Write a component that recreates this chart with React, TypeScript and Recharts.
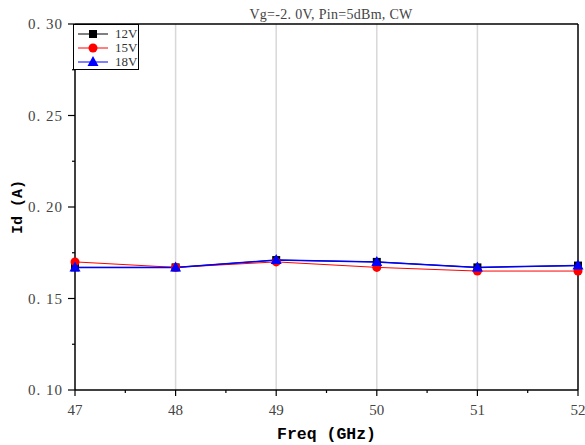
import React from 'react';
import { LineChart, Line, XAxis, YAxis, ReferenceLine, Legend } from 'recharts';

// Drain current vs. frequency at three drain voltages
const freqs = [47, 48, 49, 50, 51, 52];
const id12V = [0.167, 0.167, 0.171, 0.170, 0.167, 0.168];
const id15V = [0.170, 0.167, 0.170, 0.167, 0.165, 0.165];
const id18V = [0.167, 0.167, 0.171, 0.170, 0.167, 0.168];

const xTicks = [47, 47.5, 48, 48.5, 49, 49.5, 50, 50.5, 51, 51.5, 52];
const yTicks = [0.1, 0.125, 0.15, 0.175, 0.2, 0.225, 0.25, 0.275, 0.3];
const gridFreqs = [48, 49, 50, 51];

const title = 'Vg=-2. 0V, Pin=5dBm, CW';
const xTitle = 'Freq (GHz)';
const yTitle = 'Id (A)';

const data = freqs.map((f, i) => ({ f, v12: id12V[i], v15: id15V[i], v18: id18V[i] }));

const series = [
  { key: 'v12', name: '12V', color: '#000000', shape: 'square' },
  { key: 'v15', name: '15V', color: '#ff0000', shape: 'circle' },
  { key: 'v18', name: '18V', color: '#0000ff', shape: 'triangle' },
];

const serif = '"Liberation Serif", "DejaVu Serif", serif';
const mono = '"Liberation Mono", "DejaVu Sans Mono", monospace';

const Marker = ({ shape, color, cx, cy }: { shape: string; color: string; cx: number; cy: number }) => {
  if (shape === 'square') return <rect x={cx - 4} y={cy - 4} width={8} height={8} fill={color} />;
  if (shape === 'circle') return <circle cx={cx} cy={cy} r={4.5} fill={color} />;
  return <polygon points={`${cx},${cy - 6} ${cx - 5.5},${cy + 4} ${cx + 5.5},${cy + 4}`} fill={color} />;
};

const makeDot = (shape: string, color: string) => (p: any) => (
  <Marker key={`${shape}-${p.index}`} shape={shape} color={color} cx={p.cx} cy={p.cy} />
);

const XTick = (props: any) => {
  const { x, y, payload } = props;
  const major = Number.isInteger(payload.value);
  return (
    <g>
      <line x1={x} x2={x} y1={y} y2={y + (major ? 6 : 3)} stroke="#000" strokeWidth={1.2} />
      {major && (
        <text x={x} y={y + 25} textAnchor="middle" fontFamily={serif} fontSize={15} fill="#444">
          {payload.value}
        </text>
      )}
    </g>
  );
};

const YTick = (props: any) => {
  const { x, y, payload } = props;
  const v = payload.value as number;
  const major = Math.abs(v * 20 - Math.round(v * 20)) < 1e-6;
  return (
    <g>
      <line x1={x} x2={x - (major ? 7 : 3)} y1={y} y2={y} stroke="#000" strokeWidth={1.2} />
      {major && (
        <text x={x - 12} y={y + 5} textAnchor="end" fontFamily={serif} fontSize={15} letterSpacing={1} fill="#444">
          {v.toFixed(2).replace('.', '. ')}
        </text>
      )}
    </g>
  );
};

const LegendBox = () => (
  <div
    style={{
      border: '1px solid #000',
      background: '#fff',
      width: 66,
      height: 46,
      boxSizing: 'border-box',
      paddingTop: 2,
      paddingLeft: 4,
    }}
  >
    {series.map((s) => (
      <div key={s.key} style={{ display: 'flex', alignItems: 'center', height: 14 }}>
        <svg width={30} height={14} style={{ display: 'block' }}>
          <line x1={0} x2={30} y1={7} y2={7} stroke={s.color} strokeWidth={1} />
          <Marker shape={s.shape} color={s.color} cx={15} cy={7} />
        </svg>
        <span style={{ marginLeft: 7, fontFamily: serif, fontSize: 13, color: '#333', lineHeight: '14px' }}>
          {s.name}
        </span>
      </div>
    ))}
  </div>
);

export default function App() {
  return (
    <div style={{ position: 'absolute', left: 0, top: 0, width: 585, height: 445, background: '#fff' }}>
      <LineChart width={585} height={445} data={data} margin={{ top: 24, right: 7, bottom: 0, left: 0 }}>
        {gridFreqs.map((f) => (
          <ReferenceLine key={f} x={f} stroke="#d8d8d8" strokeWidth={1.5} />
        ))}
        <ReferenceLine y={0.3} stroke="#000" strokeWidth={1.5} />
        <ReferenceLine x={52} stroke="#000" strokeWidth={1.5} />
        <XAxis
          dataKey="f"
          type="number"
          domain={[47, 52]}
          ticks={xTicks}
          interval={0}
          height={55}
          tickSize={0}
          tickMargin={0}
          tickLine={false}
          axisLine={{ stroke: '#000', strokeWidth: 1.5 }}
          tick={<XTick />}
          label={{
            value: xTitle,
            position: 'insideBottom',
            offset: 6,
            fontFamily: mono,
            fontWeight: 'bold',
            fontSize: 16.5,
            fill: '#000',
          }}
        />
        <YAxis
          type="number"
          domain={[0.1, 0.3]}
          ticks={yTicks}
          interval={0}
          width={75}
          tickSize={0}
          tickMargin={0}
          tickLine={false}
          axisLine={{ stroke: '#000', strokeWidth: 1.5 }}
          tick={<YTick />}
          label={{
            value: yTitle,
            angle: -90,
            position: 'insideLeft',
            offset: 17,
            fontFamily: mono,
            fontWeight: 'bold',
            fontSize: 15,
            fill: '#000',
            style: { textAnchor: 'middle' },
          }}
        />
        <text x={331} y={19} textAnchor="middle" fontFamily={serif} fontSize={14} letterSpacing={0.3} fill="#444">
          {title}
        </text>
        <Legend
          layout="vertical"
          verticalAlign="middle"
          align="center"
          wrapperStyle={{ left: 73, top: 24, width: 66 }}
          content={<LegendBox />}
        />
        {series.map((s) => (
          <Line
            key={s.key}
            dataKey={s.key}
            name={s.name}
            stroke={s.color}
            strokeWidth={s.key === 'v18' ? 1.5 : 1}
            dot={makeDot(s.shape, s.color)}
            activeDot={false}
            isAnimationActive={false}
          />
        ))}
      </LineChart>
    </div>
  );
}
